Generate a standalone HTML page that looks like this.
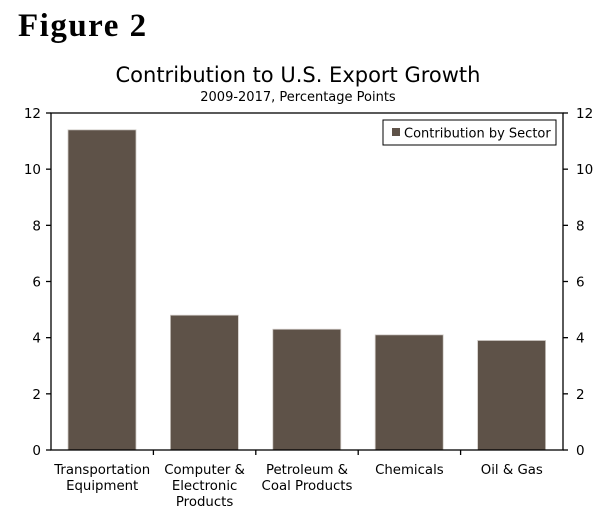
<!DOCTYPE html>
<html><head><meta charset="utf-8"><style>
body{margin:0;background:#fff;width:600px;height:521px;overflow:hidden}
svg text{font-family:"DejaVu Sans",Verdana,sans-serif;fill:#000}
</style></head><body>
<svg id="c" width="600" height="521" xmlns="http://www.w3.org/2000/svg">
<text x="18" y="36" style="font-family:'Liberation Serif',serif;font-weight:bold;font-size:33px;letter-spacing:1.5px">Figure 2</text>
<text x="298" y="82" text-anchor="middle" font-size="21">Contribution to U.S. Export Growth</text>
<text x="298" y="101" text-anchor="middle" font-size="13">2009-2017, Percentage Points</text>
<g id="plot"></g>
<rect x="383" y="120" width="173" height="25" fill="#fff" stroke="#000" stroke-width="1"/>
<rect x="392" y="128" width="8" height="8" fill="#5e5248"/>
<text x="404" y="137.5" font-size="13">Contribution by Sector</text>
</svg>
<script>
const categories=[["Transportation","Equipment"],["Computer &","Electronic","Products"],["Petroleum &","Coal Products"],["Chemicals"],["Oil & Gas"]];
const values=[11.4,4.8,4.3,4.1,3.9];
const ticks=[0,2,4,6,8,10,12];
const L=51,R=563,T=113,B=450,max=12;
const y=v=>B-(v/max)*(B-T);
const cw=(R-L)/categories.length;
const x=i=>L+i*cw;
const g=document.getElementById('plot');
const NS='http://www.w3.org/2000/svg';
function mk(t,a){const e=document.createElementNS(NS,t);for(const k in a)e.setAttribute(k,a[k]);g.appendChild(e);return e;}
values.forEach((v,i)=>{
 const r=mk('rect',{x:x(i)+17,y:y(v),width:68,height:B-y(v),fill:'#5e5248',stroke:'#cfcac5','stroke-width':0.8});
 
 
 categories[i].forEach((ln,j)=>{
  const t=mk('text',{x:x(i)+cw/2,y:474+j*16,'text-anchor':'middle','font-size':13.3});
  t.textContent=ln;
  
  
 });
});
const frame=mk('rect',{x:L,y:T,width:R-L,height:B-T,fill:'none',stroke:'#000','stroke-width':1.3});


ticks.forEach(t=>{
 mk('line',{x1:L-5,x2:L,y1:y(t),y2:y(t),stroke:'#000','stroke-width':1.3});
 mk('line',{x1:R,x2:R+5,y1:y(t),y2:y(t),stroke:'#000','stroke-width':1.3});
 const a=mk('text',{x:41,y:y(t)+5,'text-anchor':'end','font-size':13.5});a.textContent=t;
 
 
 const b=mk('text',{x:576,y:y(t)+5,'font-size':13.5});b.textContent=t;
 
 
});
for(let i=1;i<categories.length;i++)mk('line',{x1:x(i),x2:x(i),y1:B,y2:B+5,stroke:'#000','stroke-width':1.3});
</script>
</body></html>
